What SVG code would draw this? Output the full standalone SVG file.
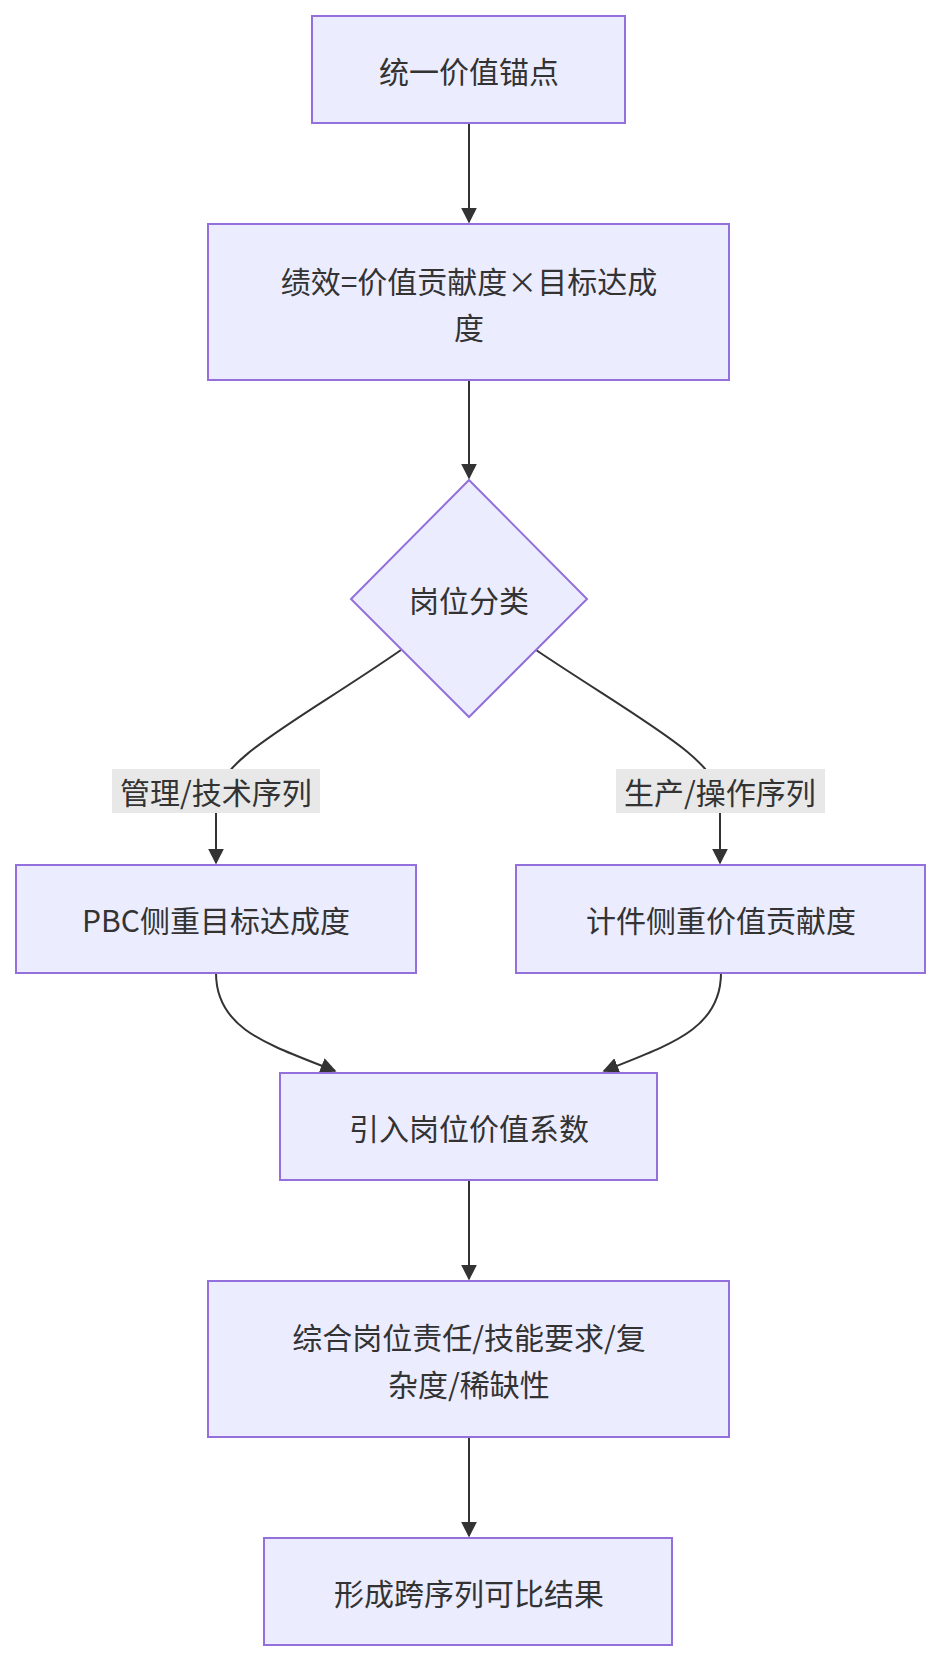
<svg xmlns="http://www.w3.org/2000/svg" width="939" height="1660" viewBox="0 0 939 1660">
<style>
.n{fill:#ECECFF;stroke:#9370DB;stroke-width:2}
.t{font-family:"Noto Sans CJK SC","Liberation Sans",sans-serif;font-size:30px;fill:#333;text-anchor:middle;dominant-baseline:central}
.e{fill:none;stroke:#333;stroke-width:2;marker-end:url(#a)}
.lb{fill:#e8e8e8}
</style>
<defs><marker id="a" viewBox="0 0 10 10" refX="9" refY="5" markerWidth="8" markerHeight="8" orient="auto"><path d="M0,0L10,5L0,10z" fill="#333"/></marker></defs>
<rect width="939" height="1660" fill="#fff"/>
<g id="edges">
<path class="e" d="M469,123V222"/>
<path class="e" d="M469,380V478"/>
<path class="e" d="M401,650C300,720 216,760 216,800V863"/>
<path class="e" d="M536,650C640,720 720,760 720,800V863"/>
<path class="e" d="M216,973C216,1030 270,1045 335,1071"/>
<path class="e" d="M721,973C721,1030 668,1045 604,1071"/>
<path class="e" d="M469,1180V1279"/>
<path class="e" d="M469,1437V1536"/>
<rect class="lb" x="112" y="769" width="208" height="44"/><text class="t" x="216" y="791">管理/技术序列</text>
<rect class="lb" x="616" y="769" width="209" height="44"/><text class="t" x="720" y="791">生产/操作序列</text>
</g>
<g id="n1"><rect class="n" x="312" y="16" width="313" height="107"/><text class="t" x="469" y="70">统一价值锚点</text></g>
<g id="n2"><rect class="n" x="208" y="224" width="521" height="156"/><text class="t" x="469" y="280">绩效=价值贡献度×目标达成</text><text class="t" x="469" y="326">度</text></g>
<g id="n3"><polygon class="n" points="469,480 587,599 469,717 351,599"/><text class="t" x="469" y="599">岗位分类</text></g>
<g id="n4"><rect class="n" x="16" y="865" width="400" height="108"/><text class="t" x="216" y="919">PBC侧重目标达成度</text></g>
<g id="n5"><rect class="n" x="516" y="865" width="409" height="108"/><text class="t" x="721" y="919">计件侧重价值贡献度</text></g>
<g id="n6"><rect class="n" x="280" y="1073" width="377" height="107"/><text class="t" x="469" y="1127">引入岗位价值系数</text></g>
<g id="n7"><rect class="n" x="208" y="1281" width="521" height="156"/><text class="t" x="469" y="1336">综合岗位责任/技能要求/复</text><text class="t" x="469" y="1383">杂度/稀缺性</text></g>
<g id="n8"><rect class="n" x="264" y="1538" width="408" height="107"/><text class="t" x="469" y="1592">形成跨序列可比结果</text></g>
</svg>
